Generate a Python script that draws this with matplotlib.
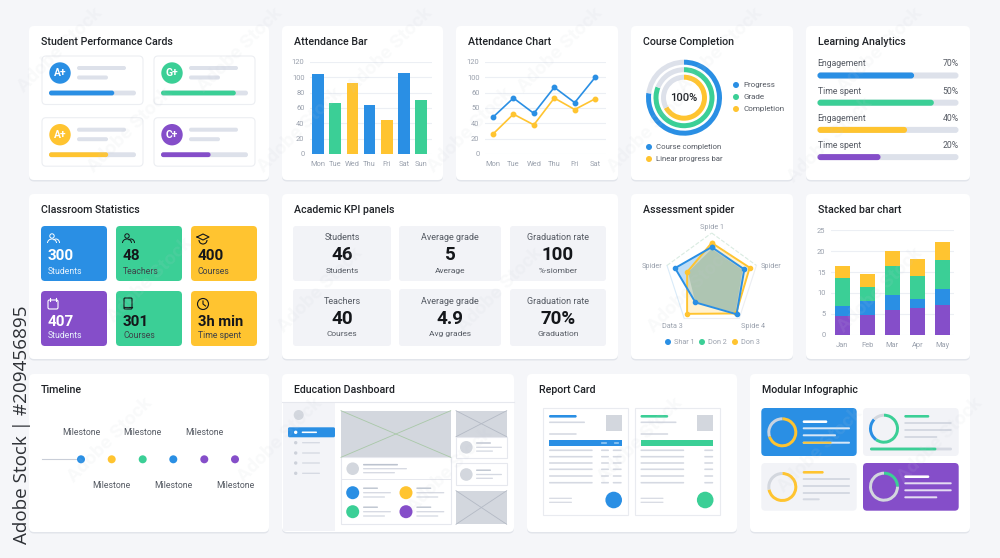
import numpy as np
from matplotlib import pyplot as plt
from matplotlib.patches import Circle, FancyBboxPatch, Rectangle, Arc

plt.rcParams['font.family'] = ['Roboto', 'DejaVu Sans']

BLUE = '#2a8fe4'
GREEN = '#3bcf96'
YELLOW = '#ffc430'
PURPLE = '#854ec9'
BAR_GREY = '#dde1ea'
LINE_GREY = '#d5d9e2'
TILE_GREY = '#f2f3f7'
IMG_GREY = '#d3d7de'
BG = '#f5f6f9'
INK = '#1f2227'
MUTED = '#555a63'
TICK = '#9aa1ad'
GRID = '#eceff4'

# attendance bar
bar_days = ['Mon', 'Tue', 'Wed', 'Thu', 'Fri', 'Sat', 'Sun']
bar_values = [105, 66, 92, 64, 45, 106, 71]
bar_colors = [BLUE, GREEN, YELLOW, BLUE, YELLOW, BLUE, GREEN]
y_ticks = [0, 20, 40, 60, 80, 100, 120]

# attendance chart
line_days = ['Mon', 'Tue', 'Wed', 'Thu', 'Fri', 'Sat']
line_blue = [48, 73, 53, 87, 67, 100]
line_yellow = [26, 52, 38, 73, 58, 72]
line_tick_labels = ['0', '20', '40', '50', '60', '100', '120']

# course completion
ring_values = [0.77, 0.81, 0.67]
ring_colors = [BLUE, GREEN, YELLOW]
ring_legend = ['Progress', 'Grade', 'Completion']
ring_legend_low = ['Course completion', 'Linear progress bar']

# learning analytics
la_labels = ['Engagement', 'Time spent', 'Engagement', 'Time spent']
la_pct = ['70%', '50%', '40%', '20%']
la_fill = [0.685, 0.825, 0.635, 0.447]
la_colors = [BLUE, GREEN, YELLOW, PURPLE]

# student cards
grade_labels = ['A+', 'G+', 'A+', 'C+']
grade_colors = [BLUE, GREEN, YELLOW, PURPLE]
grade_fill = [0.75, 0.86, 0.68, 0.57]

# classroom statistics
stat_values = ['300', '48', '400', '407', '301', '3h min']
stat_labels = ['Students', 'Teachers', 'Courses', 'Students', 'Courses', 'Time spent']
stat_colors = [BLUE, GREEN, YELLOW, PURPLE, GREEN, YELLOW]

# KPI panels
kpi_tops = ['Students', 'Average grade', 'Graduation rate', 'Teachers', 'Average grade', 'Graduation rate']
kpi_values = ['46', '5', '100', '40', '4.9', '70%']
kpi_subs = ['Students', 'Average', '%-siomber', 'Courses', 'Avg grades', 'Graduation']

# spider
spider_axes = ['Spide 1', 'Spider', 'Spide 4', 'Data 3', 'Spider']
spider_blue = [0.70, 0.73, 0.90, 0.59, 0.82]
spider_green = [0.66, 0.69, 0.86, 0.59, 0.53]
spider_yellow = [0.79, 0.85, 0.88, 0.89, 0.55]
spider_legend = ['Shar 1', 'Don 2', 'Don 3']

# stacked bars
stack_months = ['Jan', 'Feb', 'Mar', 'Apr', 'May']
stack_purple = [4.55, 4.6, 5.9, 6.5, 7.0]
stack_blue = [2.3, 3.45, 3.5, 2.05, 3.95]
stack_green = [6.7, 3.35, 7.05, 5.5, 6.95]
stack_yellow = [2.95, 3.1, 3.5, 4.0, 4.4]
stack_ticks = [0, 5, 10, 15, 20, 25]

# timeline
milestone_colors = [BLUE, YELLOW, GREEN, BLUE, PURPLE, PURPLE]

W, H = 1000, 558
fig = plt.figure(figsize=(W / 100, H / 100), dpi=100, facecolor=BG)

# everything that is only layout is placed in pixels of the reference
page = fig.add_axes([0, 0, 1, 1], zorder=0)
page.set_xlim(0, W)
page.set_ylim(H, 0)
page.axis('off')


def sub_axes(x0, y0, x1, y1, **kw):
    ax = fig.add_axes([x0 / W, 1 - y1 / H, (x1 - x0) / W, (y1 - y0) / H], zorder=2, **kw)
    ax.patch.set_alpha(0)
    return ax


def box(x0, y0, x1, y1, color, r=3, ec='none', lw=0, z=1):
    p = FancyBboxPatch((x0, y0), x1 - x0, y1 - y0, boxstyle=f'round,pad=0,rounding_size={r}',
                       fc=color, ec=ec, lw=lw, zorder=z)
    page.add_patch(p)


def card(x0, y0, x1, y1, title):
    box(x0, y0 + 1.5, x1, y1 + 1.5, '#e2e5eb', r=5, z=0.5)
    box(x0, y0, x1, y1, 'white', r=5, z=0.6)
    page.text(x0 + 12, y0 + 16, title, fontsize=7.7, fontweight='medium', color=INK, va='center', zorder=5)


def line(x0, x1, y, color=LINE_GREY, h=1.6, z=3):
    box(x0, y - h / 2, x1, y + h / 2, color, r=h / 2, z=z)


def dot(x, y, r, color, z=3):
    page.add_patch(Circle((x, y), r, fc=color, ec='none', zorder=z))


def label(x, y, s, size=5.8, color=MUTED, ha='left', weight='normal'):
    page.text(x, y, s, fontsize=size, color=color, ha=ha, va='center', fontweight=weight, zorder=5)


def progress(x0, x1, y, h, frac, color, back=BAR_GREY):
    line(x0, x1, y, back, h)
    line(x0, x0 + (x1 - x0) * frac, y, color, h, z=3.2)


def style_axes(ax):
    for s in ax.spines.values():
        s.set_visible(False)
    ax.tick_params(length=0, labelsize=5.4, labelcolor=TICK)
    ax.tick_params(axis='x', pad=5)
    ax.tick_params(axis='y', pad=4)
    ax.set_axisbelow(True)
    ax.grid(axis='y', color=GRID, lw=0.8)


def donut(cx, cy, r, width, parts, colors):
    ax = sub_axes(cx - r - 1, cy - r - 1, cx + r + 1, cy + r + 1)
    ax.pie(parts, colors=colors, startangle=90, counterclock=False, radius=r,
           wedgeprops={'width': width, 'linewidth': 0})
    ax.set_xlim(-r - 1, r + 1)
    ax.set_ylim(-r - 1, r + 1)
    return ax


def crossed(x0, y0, x1, y1, color):
    page.add_patch(Rectangle((x0, y0), x1 - x0, y1 - y0, fc=IMG_GREY, ec='none', zorder=2))
    page.plot([x0, x1], [y0, y1], color=color, lw=0.6, zorder=2.5)
    page.plot([x0, x1], [y1, y0], color=color, lw=0.6, zorder=2.5)


# row 1
card(29, 26, 269, 180, 'Student Performance Cards')
card(282, 26, 443, 180, 'Attendance Bar')
card(456, 26, 618, 180, 'Attendance Chart')
card(631, 26, 793, 180, 'Course Completion')
card(806, 26, 970, 180, 'Learning Analytics')
# row 2
card(29, 194, 269, 359, 'Classroom Statistics')
card(282, 194, 618, 359, 'Academic KPI panels')
card(631, 194, 793, 359, 'Assessment spider')
card(806, 194, 970, 359, 'Stacked bar chart')
# row 3
card(29, 374, 269, 532, 'Timeline')
card(282, 374, 514, 532, 'Education Dashboard')
card(527, 374, 737, 532, 'Report Card')
card(750, 374, 970, 532, 'Modular Infographic')

# student cards
for i, (g, c, f) in enumerate(zip(grade_labels, grade_colors, grade_fill)):
    dx = 112 * (i % 2)
    dy = 61.7 * (i // 2)
    box(42 + dx, 56 + dy, 143 + dx, 104.5 + dy, 'white', r=4, ec='#eceef2', lw=0.8, z=2)
    dot(60 + dx, 73 + dy, 10.7, c)
    label(60 + dx, 73 + dy, g, size=7.5, color='white', ha='center', weight='bold')
    line(77 + dx, 126 + dx, 68 + dy, BAR_GREY, 4)
    line(77 + dx, 108 + dx, 77.5 + dy, BAR_GREY, 4)
    progress(49 + dx, 136 + dx, 93 + dy, 4.8, f, c)

# attendance bar
ax = sub_axes(310, 62, 432, 154)
ax.bar(range(len(bar_days)), bar_values, width=0.68, color=bar_colors)
ax.set_xlim(-0.47, 6.63)
ax.set_ylim(0, 120)
ax.set_yticks(y_ticks)
ax.set_xticks(range(len(bar_days)), bar_days)
style_axes(ax)

# attendance chart
ax = sub_axes(485, 62, 606, 154)
ax.plot(range(6), line_blue, color=BLUE, lw=1.2, marker='o', ms=3.2, clip_on=False)
ax.plot(range(6), line_yellow, color=YELLOW, lw=1.2, marker='o', ms=3.2, clip_on=False)
ax.set_xlim(-0.39, 5.53)
ax.set_ylim(0, 120)
ax.set_yticks(y_ticks, line_tick_labels)
ax.set_xticks(range(6), line_days)
style_axes(ax)

# course completion
for r, v, c in zip([38, 30.5, 23], ring_values, ring_colors):
    donut(684, 97.7, r, 5, [v, 1 - v], [c, BAR_GREY])
page.text(684, 97.7, '100%', fontsize=8, color=INK, ha='center', va='center', fontweight='medium')
for i, (s, c) in enumerate(zip(ring_legend, ring_colors)):
    dot(736, 85 + 12 * i, 3, c)
    label(743, 85 + 12 * i, s, size=5.8)
for i, (s, c) in enumerate(zip(ring_legend_low, [BLUE, YELLOW])):
    dot(649, 147 + 12 * i, 3, c)
    label(656, 147 + 12 * i, s, size=5.6)

# learning analytics
for i, (s, p, f, c) in enumerate(zip(la_labels, la_pct, la_fill, la_colors)):
    y = 64 + 27.2 * i
    label(817.5, y, s, size=6.2)
    label(958.5, y, p, size=6.2, ha='right')
    progress(817.5, 958.5, y + 11.5, 6, f, c)

# classroom statistics
tile_x = [(41, 107), (116, 182), (191, 257)]
tile_y = [(226, 281), (291, 346)]
for i in range(6):
    x0, x1 = tile_x[i % 3]
    y0, y1 = tile_y[i // 3]
    c = stat_colors[i]
    fg = 'white' if c in (BLUE, PURPLE) else '#14161a'
    box(x0, y0, x1, y1, c, r=4, z=2)
    label(x0 + 7, y0 + 30.5, stat_values[i], size=10.6 if i == 5 else 11, color=fg, weight='bold')
    sub = '#e8f2fc' if c in (BLUE, PURPLE) else '#3d4148'
    label(x0 + 7, y0 + 45, stat_labels[i], size=6.2, color=sub)
    # small outline icons
    ix, iy = x0 + 12, y0 + 13
    if i in (0, 1):
        page.add_patch(Circle((ix - 1, iy - 3), 2.2, fc='none', ec=fg, lw=0.7, zorder=4))
        page.add_patch(Arc((ix - 1, iy + 4), 9, 8, theta1=180, theta2=360, ec=fg, lw=0.7, zorder=4))
        page.add_patch(Arc((ix + 3, iy + 4), 7, 8, theta1=230, theta2=360, ec=fg, lw=0.7, zorder=4))
    elif i == 2:
        page.plot([ix - 6, ix, ix + 6, ix, ix - 6], [iy - 2, iy - 5, iy - 2, iy + 1, iy - 2], color=fg, lw=0.8, zorder=4)
        page.add_patch(Arc((ix, iy + 1), 8, 8, theta1=0, theta2=180, ec=fg, lw=0.8, zorder=4))
    elif i == 3:
        box(ix - 5, iy - 4, ix + 5, iy + 5, 'none', r=1.5, ec=fg, lw=0.8, z=4)
        page.plot([ix - 3, ix - 3], [iy - 6, iy - 3], color=fg, lw=0.8, zorder=4)
        page.plot([ix + 3, ix + 3], [iy - 6, iy - 3], color=fg, lw=0.8, zorder=4)
    elif i == 4:
        box(ix - 4, iy - 6, ix + 4, iy + 5, 'none', r=1, ec=fg, lw=0.8, z=4)
        page.plot([ix - 4, ix + 4], [iy + 3, iy + 3], color=fg, lw=0.8, zorder=4)
    else:
        page.add_patch(Circle((ix, iy), 5.5, fc='none', ec=fg, lw=0.8, zorder=4))
        page.plot([ix, ix, ix + 2.5], [iy - 3, iy, iy + 2], color=fg, lw=0.8, zorder=4)

# KPI panels
kpi_x = [(293, 391), (399, 501), (510, 606)]
kpi_y = [(226, 281), (289, 346)]
for i in range(6):
    x0, x1 = kpi_x[i % 3]
    y0, y1 = kpi_y[i // 3]
    box(x0, y0, x1, y1, TILE_GREY, r=3, z=2)
    cx = (x0 + x1) / 2
    label(cx, y0 + 12, kpi_tops[i], size=6.5, ha='center')
    label(cx, y0 + 29.5, kpi_values[i], size=13.5, color='#14161a', ha='center', weight='bold')
    label(cx, y0 + 45, kpi_subs[i], size=6, ha='center')

# spider
theta = np.linspace(0, 2 * np.pi, 6)
ax = sub_axes(664.7, 233, 758.7, 327, projection='polar')
ax.set_theta_zero_location('N')
ax.set_theta_direction(-1)
ax.set_ylim(0, 1)
ax.set_xticks([])
ax.set_yticks([])
ax.spines['polar'].set_visible(False)
ax.grid(False)
edge_colors = ['#d9ebe1', '#eceef2', '#eceef2', '#d9ebf9', '#d9ebe1']
for i in range(5):
    ax.plot(theta[i:i + 2], [1, 1], color=edge_colors[i], lw=0.8, ls='--' if i in (0, 4) else '-', clip_on=False)
ax.fill(theta, spider_blue + spider_blue[:1], color=BLUE, alpha=0.3, lw=0)
ax.fill(theta, spider_yellow + spider_yellow[:1], color=YELLOW, alpha=0.22, lw=0)
ax.fill(theta, spider_green + spider_green[:1], color='#aec5b2', lw=0)
ax.plot(theta, spider_yellow + spider_yellow[:1], color=YELLOW, lw=1.4, marker='o', ms=3, clip_on=False)
ax.plot(theta, spider_blue + spider_blue[:1], color=BLUE, lw=1.4, marker='o', ms=3, clip_on=False)
spider_pos = [(711.7, 227.7), (771, 266), (753, 326), (672, 326), (652, 266)]
for (x, y), s in zip(spider_pos, spider_axes):
    label(x, y, s, size=5.2, color=TICK, ha='center')
for x, s, c in zip([668, 702, 735], spider_legend, [BLUE, GREEN, YELLOW]):
    dot(x, 342, 3, c)
    label(x + 6, 342, s, size=5.2, color=TICK)

# stacked bars
ax = sub_axes(831, 230.3, 954, 334.7)
xs = np.arange(5)
bottom = np.zeros(5)
for vals, c in zip([stack_purple, stack_blue, stack_green, stack_yellow], [PURPLE, BLUE, GREEN, YELLOW]):
    ax.bar(xs, vals, bottom=bottom, width=0.6, color=c)
    bottom += np.array(vals)
ax.set_xlim(-0.45, 4.47)
ax.set_ylim(0, 25)
ax.set_yticks(stack_ticks)
ax.set_xticks(xs, stack_months)
style_axes(ax)

# timeline
page.plot([42, 81], [459.3, 459.3], color='#c9ced8', lw=0.8, zorder=2)
ms_x = [81, 111.7, 142.7, 173.3, 204.3, 235]
for i, (x, c) in enumerate(zip(ms_x, milestone_colors)):
    dot(x, 459.3, 4, c)
    label(x, 432.3 if i % 2 == 0 else 486, 'Milestone', size=6.3, ha='center')

# education dashboard
page.plot([282, 514], [402, 402], color='#e6e8ee', lw=0.8, zorder=2)
page.add_patch(Rectangle((283, 402.5), 52, 128.5, fc='#f3f4f8', ec='none', zorder=1))
dot(298.7, 415, 5, '#d3d7de')
box(288, 427.3, 335, 437.3, BLUE, r=1.5, z=2)
dot(295.7, 432.3, 1.7, 'white')
line(301.7, 317, 432.3, 'white', 1.6)
for y in [442.7, 453, 463, 473.3]:
    dot(295.7, y, 1.7, '#cdd1da')
    line(302, 320, y, '#d5d9e2', 1.3)
crossed(341, 410.7, 450.7, 457.3, '#a9c8a8')
page.add_patch(Rectangle((341, 457.3), 109.7, 67, fc='white', ec='#e6e8ee', lw=0.8, zorder=2))
dot(352.7, 468.7, 6.3, '#d3d7de')
line(363, 398, 464.7, '#bcc3cf', 1.6)
line(363, 407, 468.7, LINE_GREY, 1.3)
line(363, 395, 472.7, LINE_GREY, 1.3)
page.plot([341, 450.7], [479, 479], color='#e6e8ee', lw=0.7, zorder=3)
for cx, cy, c in [(352.7, 492.7, BLUE), (406, 492.7, YELLOW), (352.7, 511.7, GREEN), (406, 511.7, PURPLE)]:
    dot(cx, cy, 6.5, c)
    line(cx + 10.3, cx + 25.3, cy - 4.5, '#bcc3cf', 1.4)
    line(cx + 10.3, cx + 38.3, cy, LINE_GREY, 1.3)
    line(cx + 10.3, cx + 32.3, cy + 4.3, LINE_GREY, 1.3)
crossed(456, 410.7, 506.7, 436.7, '#b4bac5')
page.add_patch(Rectangle((456, 436.7), 50.7, 21.6, fc='white', ec='#e6e8ee', lw=0.8, zorder=2))
page.add_patch(Rectangle((456, 463.3), 50.7, 22, fc='white', ec='#e6e8ee', lw=0.8, zorder=2))
for cy in [447.3, 474.5]:
    dot(466.3, cy, 6.3, '#d3d7de')
    line(476, 491, cy - 4.3, '#bcc3cf', 1.4)
    line(476, 502, cy, LINE_GREY, 1.3)
    line(476, 493, cy + 3.8, LINE_GREY, 1.3)
crossed(456, 490.7, 506.7, 524.3, '#b4bac5')

# report card
row_ys = [450.3, 456.7, 463, 469.3, 476, 482.7]
for off, c, two in [(0, BLUE, True), (91.5, GREEN, False)]:
    page.add_patch(Rectangle((543.3 + off, 408.3), 85, 106.4, fc='white', ec='#e9ebf0', lw=0.8, zorder=2))
    line(549 + off, 576.7 + off, 416.3, c, 2.6)
    line(549 + off, 585 + off, 422.3, LINE_GREY, 1.6)
    page.add_patch(Rectangle((605.7 + off, 415.3), 16, 16, fc=IMG_GREY, ec='none', zorder=3))
    line(549 + off, 576.7 + off, 434, LINE_GREY, 1.6)
    page.add_patch(Rectangle((549 + off, 440.3), 72.7, 5.4, fc=c, ec='none', zorder=3))
    if two:
        line(601, 607, 443, '#bfe0f9', 1.2, z=4)
        line(614, 619, 443, '#bfe0f9', 1.2, z=4)
    for y in row_ys:
        line(549 + off, 592.7 + off, y, LINE_GREY, 1.6)
        if two:
            line(601 + off, 609 + off, y, LINE_GREY, 1.6)
        line(612.7 + off, 621.7 + off, y, LINE_GREY, 1.6)
    line(549 + off, 572 + off, 498.3, LINE_GREY, 1.2)
    line(549 + off, 572 + off, 502.3, LINE_GREY, 1.2)
    dot(613.7 + off, 500, 8.3, c)

# modular infographic
box(761.3, 408, 856.7, 456, BLUE, r=4, z=2)
box(863, 408, 958.7, 456, TILE_GREY, r=4, z=2)
box(761.3, 463, 856.7, 510.7, TILE_GREY, r=4, z=2)
box(863, 463, 958.7, 510.7, PURPLE, r=4, z=2)
donut(782.3, 432.3, 15, 3, [0.7, 0.3], [YELLOW, '#c9d3e0'])
donut(884, 428.7, 15, 3, [0.6, 0.27, 0.13], [GREEN, BLUE, '#d3d7de'])
donut(782.3, 487, 15, 3, [0.72, 0.28], [YELLOW, '#d3d7de'])
donut(884, 486.7, 15, 3, [0.25, 0.75], [GREEN, '#d3d7de'])
line(802.7, 827.3, 421.7, 'white', 2.6)
line(802.7, 850, 428.3, '#d6e7f7', 2)
line(802.7, 836, 435.3, '#d6e7f7', 2)
progress(802.7, 850, 442.7, 2, 0.61, YELLOW, back='#d6e7f7')
line(904.3, 929.3, 416.3, GREEN, 2.6)
line(904.3, 951.7, 423, LINE_GREY, 2)
line(904.3, 951.7, 430, LINE_GREY, 2)
line(904.3, 937.3, 437, LINE_GREY, 2)
progress(870, 952, 449, 2.8, 0.81, GREEN, back=LINE_GREY)
line(802.7, 823.7, 472.3, YELLOW, 2.6)
for y, x1 in [(479, 850), (486, 850), (493, 850), (499.3, 819.7)]:
    line(802.7, x1, y, LINE_GREY, 2)
line(904.3, 929.3, 476.7, 'white', 2.6)
for y, x1 in [(483.3, 951.7), (490.3, 951.7), (497.3, 937.3)]:
    line(904.3, x1, y, '#e4dcf2', 2)

# stock watermarks on top of everything
top = fig.add_axes([0, 0, 1, 1], zorder=10)
top.set_xlim(0, W)
top.set_ylim(H, 0)
top.axis('off')
top.patch.set_alpha(0)
for x, y in [(60, 50), (240, 50), (390, 50), (560, 50), (720, 50), (880, 50),
             (130, 130), (300, 130), (470, 130), (650, 130), (830, 140),
             (150, 280), (320, 290), (500, 290), (690, 290), (880, 290),
             (110, 440), (280, 440), (450, 470), (640, 440), (820, 450), (940, 440)]:
    top.text(x, y, 'Adobe Stock', fontsize=14, fontweight='bold', color='#c8ccd6', alpha=0.1,
             rotation=45, ha='center', va='center')
top.text(22, 425, 'Adobe Stock | #209456895', fontsize=13.6, color='#2e3136', rotation=90,
         ha='center', va='center', family=['Open Sans', 'DejaVu Sans'])

fig.savefig('out.png', dpi=100, facecolor=BG)
